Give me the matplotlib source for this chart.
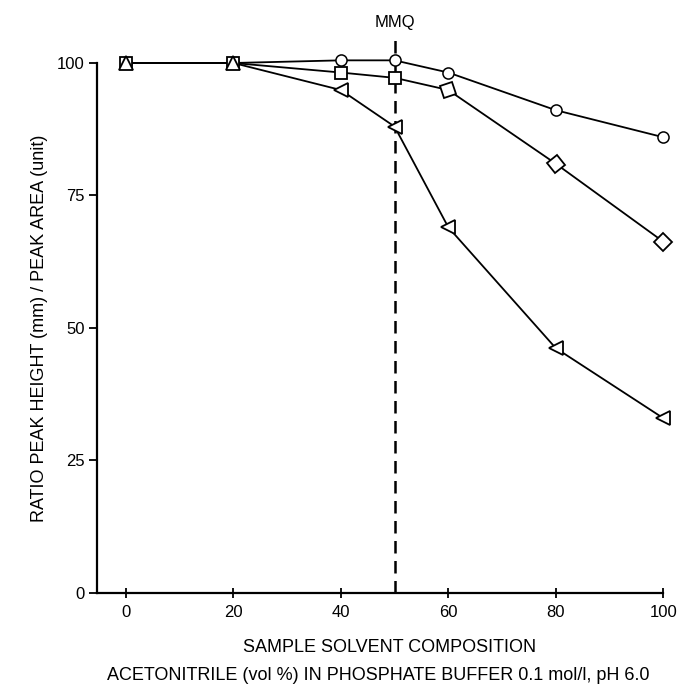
import numpy as np
import matplotlib
matplotlib.use("Agg")
import matplotlib.pyplot as plt
from matplotlib.markers import MarkerStyle
from matplotlib.transforms import blended_transform_factory

plt.rcParams['font.family'] = ['Liberation Sans', 'DejaVu Sans']

# data
comp = [0, 20, 40, 50, 60, 80, 100]
circle_y = [100, 100, 100.5, 100.5, 98.2, 91.1, 86.0]
square_y = [100, 100, 98.2, 97.2, 94.9, 81.0, 66.3]
triangle_y = [100, 100, 94.9, 88.0, 69.0, 46.2, 33.0]
mmq_x = 50

xticks = [0, 20, 40, 60, 80, 100]
yticks = [0, 25, 50, 75, 100]

fig = plt.figure(figsize=(6.83, 6.93), dpi=100)
ax = fig.add_axes([0.142, 0.1443, 0.829, 0.7648])

lw = 1.3
ax.plot(comp, circle_y, color='black', lw=lw, marker='o', ms=8,
        mfc='white', mec='black', mew=1.1, zorder=3, clip_on=False)
ax.plot(comp, square_y, color='black', lw=lw, zorder=3, clip_on=False)
ax.plot(comp, triangle_y, color='black', lw=lw, zorder=3, clip_on=False)

# squares turn with the line towards the right end
sq_angle = [0, 0, 0, 0, 20, 40, 45]
for x, y, a in zip(comp, square_y, sq_angle):
    m = MarkerStyle('s')
    m._transform = m.get_transform().rotate_deg(a)
    ax.plot(x, y, marker=m, ms=9, mfc='white', mec='black', mew=1.3,
            zorder=4, clip_on=False)

tri_marker = ['^', '^', '<', '<', '<', '<', '<']
for x, y, mk in zip(comp, triangle_y, tri_marker):
    ax.plot(x, y, marker=mk, ms=10, mfc='white', mec='black', mew=1.3,
            zorder=5, clip_on=False)

ax.plot([mmq_x, mmq_x], [0, 104.8], color='black', lw=1.8, ls=(0, (5, 3)),
        clip_on=False, zorder=2)
ax.text(mmq_x, 107.7, 'MMQ', ha='center', va='center', fontsize=12)

ax.set_xlim(-5.4, 100)
ax.set_ylim(0, 100)
ax.set_xticks(xticks)
ax.set_yticks(yticks)
ax.tick_params(axis='x', direction='inout', length=7, width=1.3, labelsize=12, pad=5)
ax.tick_params(axis='y', direction='out', length=6, width=1.3, labelsize=12, pad=3)
for s in ['top', 'right']:
    ax.spines[s].set_visible(False)
for s in ['left', 'bottom']:
    ax.spines[s].set_linewidth(1.6)

tr = blended_transform_factory(ax.transData, fig.transFigure)
ax.text(49, 1 - 648 / 693, 'SAMPLE SOLVENT COMPOSITION', transform=tr,
        ha='center', va='center', fontsize=13)
ax.text(47, 1 - 676 / 693,
        'ACETONITRILE (vol %) IN PHOSPHATE BUFFER 0.1 mol/l, pH 6.0',
        transform=tr, ha='center', va='center', fontsize=13)
ax.set_ylabel('RATIO PEAK HEIGHT (mm) / PEAK AREA (unit)', fontsize=13, labelpad=6)

fig.savefig('out.png', dpi=100)
